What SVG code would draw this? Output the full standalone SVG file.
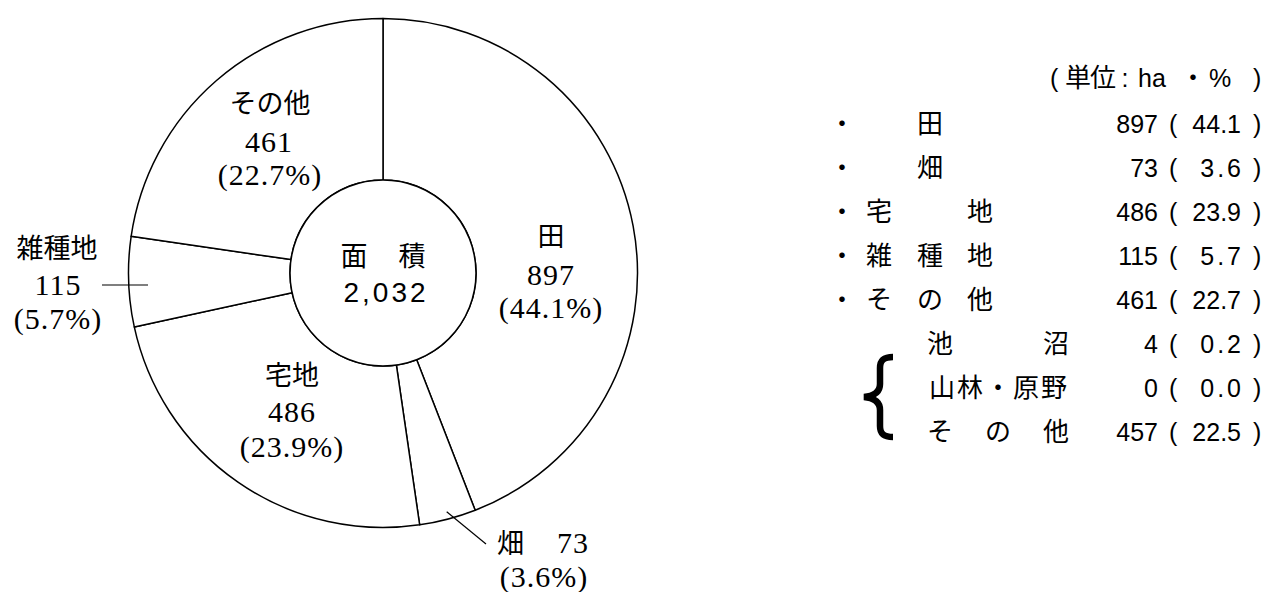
<svg xmlns="http://www.w3.org/2000/svg" width="1266" height="592" viewBox="0 0 1266 592">
<style>
.slice{fill:#fff;stroke:#000;stroke-width:1.5;stroke-linejoin:round}
.lead{stroke:#000;stroke-width:1.2;fill:none}
.ser{font-family:"Liberation Serif","Noto Sans CJK JP",serif;font-size:30px;fill:#000;text-anchor:middle}
.jp{font-size:27px}
.san{font-family:"Liberation Sans","Noto Sans CJK JP",sans-serif;fill:#000}
.cj{font-size:26px;text-anchor:middle}
.num{font-size:25px}
.e{text-anchor:end}
.m{text-anchor:middle}
.s{text-anchor:start}
</style>
<rect width="1266" height="592" fill="#fff"/>
<g id="chart">
  <g id="slice-ta">
    <path class="slice" d="M383 18.5 A254.5 254.5 0 0 1 475.18 510.22 L416.68 359.69 A93 93 0 0 0 383 180 Z"/>
  </g>
  <g id="slice-hata">
    <path class="slice" d="M475.18 510.22 A254.5 254.5 0 0 1 419.65 524.85 L396.39 365.03 A93 93 0 0 0 416.68 359.69 Z"/>
  </g>
  <g id="slice-takuchi">
    <path class="slice" d="M419.65 524.85 A254.5 254.5 0 0 1 134.28 326.95 L292.11 292.72 A93 93 0 0 0 396.39 365.03 Z"/>
  </g>
  <g id="slice-zasshuchi">
    <path class="slice" d="M134.28 326.95 A254.5 254.5 0 0 1 131.15 236.35 L290.97 259.61 A93 93 0 0 0 292.11 292.72 Z"/>
  </g>
  <g id="slice-sonota">
    <path class="slice" d="M131.15 236.35 A254.5 254.5 0 0 1 383 18.5 L383 180 A93 93 0 0 0 290.97 259.61 Z"/>
  </g>
  <g id="center">
    <circle cx="383" cy="273" r="93" fill="#fff" stroke="#000" stroke-width="1.5"/>
    <text class="san" font-size="27" text-anchor="middle" x="384" y="266"><tspan x="354">面</tspan><tspan x="412">積</tspan></text>
    <text class="san" font-size="28" text-anchor="middle" x="386" y="302" letter-spacing="3">2,032</text>
  </g>
</g>
<g id="connectors">
  <line class="lead" x1="102" y1="285" x2="148" y2="285"/>
  <line class="lead" x1="446.7" y1="511.7" x2="486" y2="544"/>
</g>
<g id="labels">
  <g id="label-ta">
    <text class="ser jp" x="551" y="246">田</text>
    <text class="ser" x="551" y="285" letter-spacing="1">897</text>
    <text class="ser" x="551" y="318" letter-spacing="1">(44.1%)</text>
  </g>
  <g id="label-sonota">
    <text class="ser jp" x="270" y="113">その他</text>
    <text class="ser" x="269" y="152" letter-spacing="1">461</text>
    <text class="ser" x="270" y="185" letter-spacing="1">(22.7%)</text>
  </g>
  <g id="label-zasshuchi">
    <text class="ser jp" x="57" y="258">雑種地</text>
    <text class="ser" x="58" y="295" letter-spacing="1">115</text>
    <text class="ser" x="58" y="329" letter-spacing="1">(5.7%)</text>
  </g>
  <g id="label-takuchi">
    <text class="ser jp" x="292" y="385">宅地</text>
    <text class="ser" x="292" y="422" letter-spacing="1">486</text>
    <text class="ser" x="292" y="457" letter-spacing="1">(23.9%)</text>
  </g>
  <g id="label-hata">
    <text class="ser" y="553" style="text-anchor:start"><tspan x="497" font-size="27">畑</tspan><tspan x="557" letter-spacing="1">73</tspan></text>
    <text class="ser" x="544" y="587" letter-spacing="1">(3.6%)</text>
  </g>
</g>
<g id="legend" class="san">
  <g id="legend-header">
    <text class="num s" x="1050" y="87">(</text>
    <text class="cj" font-size="23" y="87"><tspan x="1078">単</tspan><tspan x="1103">位</tspan></text>
    <text class="num m" x="1125" y="87">:</text>
    <text class="num s" x="1138" y="87">ha</text>
    <text class="cj" font-size="24" x="1193" y="87">・</text>
    <text class="num s" x="1209" y="87">%</text>
    <text class="num s" x="1253" y="87">)</text>
  </g>
  <g id="legend-ta">
    <text class="cj" x="842" y="133">・</text>
    <text class="cj" x="930" y="133">田</text>
    <text class="num e" x="1158" y="133">897</text>
    <text class="num s" x="1169" y="133">(</text>
    <text class="num e" x="1241" y="133">44.1</text>
    <text class="num s" x="1253" y="133">)</text>
  </g>
  <g id="legend-hata">
    <text class="cj" x="842" y="177">・</text>
    <text class="cj" x="930" y="177">畑</text>
    <text class="num e" x="1158" y="177">73</text>
    <text class="num s" x="1169" y="177">(</text>
    <text class="num e" x="1244" y="177" letter-spacing="3">3.6</text>
    <text class="num s" x="1253" y="177">)</text>
  </g>
  <g id="legend-takuchi">
    <text class="cj" x="842" y="221">・</text>
    <text class="cj" y="221"><tspan x="879">宅</tspan><tspan x="980">地</tspan></text>
    <text class="num e" x="1158" y="221">486</text>
    <text class="num s" x="1169" y="221">(</text>
    <text class="num e" x="1241" y="221">23.9</text>
    <text class="num s" x="1253" y="221">)</text>
  </g>
  <g id="legend-zasshuchi">
    <text class="cj" x="842" y="265">・</text>
    <text class="cj" y="265"><tspan x="879">雑</tspan><tspan x="930">種</tspan><tspan x="980">地</tspan></text>
    <text class="num e" x="1158" y="265">115</text>
    <text class="num s" x="1169" y="265">(</text>
    <text class="num e" x="1244" y="265" letter-spacing="3">5.7</text>
    <text class="num s" x="1253" y="265">)</text>
  </g>
  <g id="legend-sonota">
    <text class="cj" x="842" y="309">・</text>
    <text class="cj" y="309"><tspan x="879">そ</tspan><tspan x="930">の</tspan><tspan x="980">他</tspan></text>
    <text class="num e" x="1158" y="309">461</text>
    <text class="num s" x="1169" y="309">(</text>
    <text class="num e" x="1241" y="309">22.7</text>
    <text class="num s" x="1253" y="309">)</text>
  </g>
  <g id="legend-brace">
    <path d="M893 357 C884 357 880 360 880 368 L880 384 C880 392 874 396 864 397 C874 398 880 402 880 410 L880 426 C880 434 884 437 893 437" fill="none" stroke="#000" stroke-width="6.5"/>
  </g>
  <g id="legend-ikenuma">
    <text class="cj" y="353"><tspan x="940">池</tspan><tspan x="1056">沼</tspan></text>
    <text class="num e" x="1158" y="353">4</text>
    <text class="num s" x="1169" y="353">(</text>
    <text class="num e" x="1244" y="353" letter-spacing="3">0.2</text>
    <text class="num s" x="1253" y="353">)</text>
  </g>
  <g id="legend-sanrin">
    <text class="cj" y="397"><tspan x="942">山</tspan><tspan x="970">林</tspan><tspan x="998">・</tspan><tspan x="1026">原</tspan><tspan x="1054">野</tspan></text>
    <text class="num e" x="1158" y="397">0</text>
    <text class="num s" x="1169" y="397">(</text>
    <text class="num e" x="1244" y="397" letter-spacing="3">0.0</text>
    <text class="num s" x="1253" y="397">)</text>
  </g>
  <g id="legend-sonota2">
    <text class="cj" y="441"><tspan x="940">そ</tspan><tspan x="998">の</tspan><tspan x="1056">他</tspan></text>
    <text class="num e" x="1158" y="441">457</text>
    <text class="num s" x="1169" y="441">(</text>
    <text class="num e" x="1241" y="441">22.5</text>
    <text class="num s" x="1253" y="441">)</text>
  </g>
</g>
</svg>
